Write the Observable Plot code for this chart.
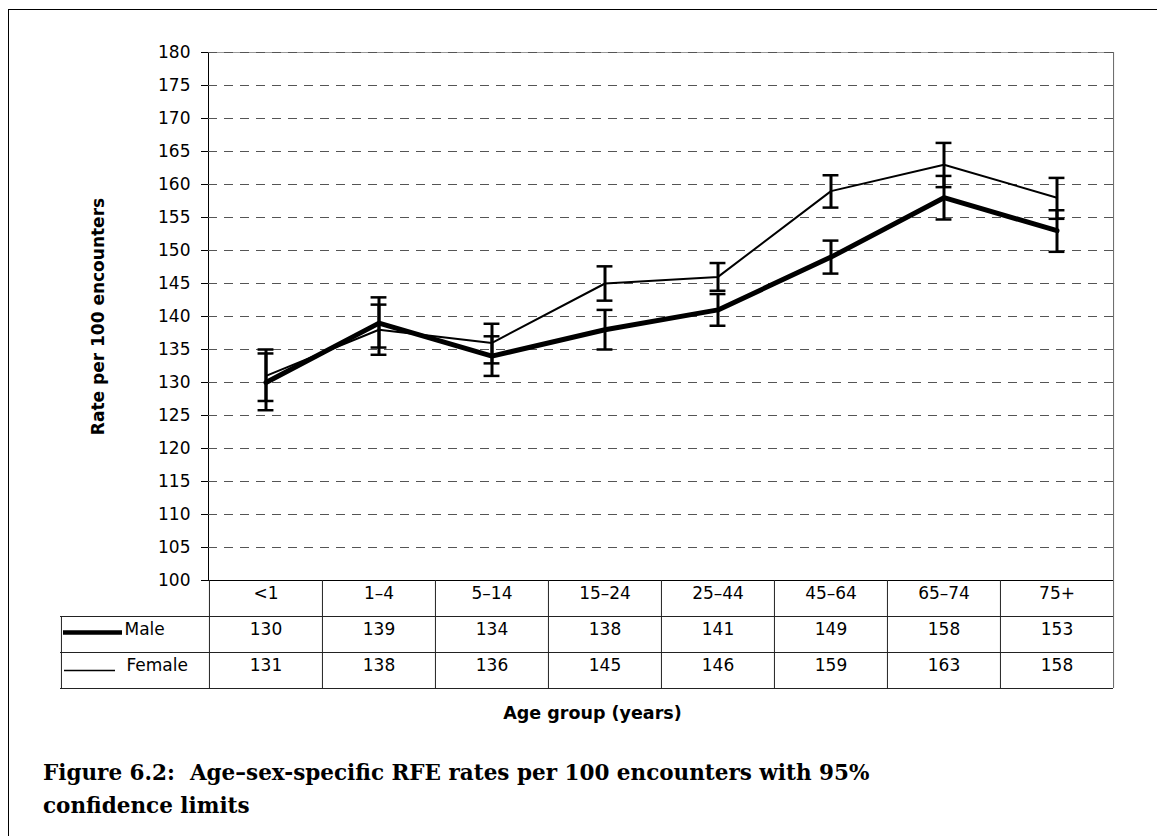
<!DOCTYPE html>
<html>
<head>
<meta charset="utf-8">
<script src="https://cdn.jsdelivr.net/npm/d3@7"></script>
<script src="https://cdn.jsdelivr.net/npm/@observablehq/plot@0.6"></script>
<style>
  html, body { margin: 0; padding: 0; background: #fff; }
  #page { position: relative; width: 1157px; height: 836px; overflow: hidden; background: #fff; }
  #border { position: absolute; left: 8px; top: 9px; width: 1160px; height: 840px; z-index: 2;
            border-left: 1px solid #000; border-top: 1px solid #000; pointer-events: none; }
  #chart { position: absolute; left: 0; top: 0; z-index: 1; }
  #caption { position: absolute; left: 43px; top: 756px; font-family: "DejaVu Serif", serif; z-index: 1;
             font-weight: bold; font-size: 21.5px; line-height: 33px; color: #000; white-space: nowrap; }
</style>
</head>
<body>
<div id="page">
  <div id="border"></div>
  <div id="chart"></div>
  <div id="caption">Figure 6.2:&nbsp; Age–sex-specific RFE rates per 100 encounters with 95%<br>confidence limits</div>
</div>
<script>
// ---- data ----
const ages = ["<1", "1–4", "5–14", "15–24", "25–44", "45–64", "65–74", "75+"];
const male = [130, 139, 134, 138, 141, 149, 158, 153];
const female = [131, 138, 136, 145, 146, 159, 163, 158];
const maleLo = [125.8, 135.3, 131.0, 135.0, 138.6, 146.5, 154.7, 149.8];
const maleHi = [134.4, 142.9, 137.0, 141.0, 143.4, 151.5, 161.3, 156.1];
const femaleLo = [127.2, 134.2, 132.9, 142.4, 143.9, 156.5, 159.6, 154.8];
const femaleHi = [135.0, 141.8, 138.9, 147.6, 148.1, 161.4, 166.3, 161.0];
const yTicks = [100, 105, 110, 115, 120, 125, 130, 135, 140, 145, 150, 155, 160, 165, 170, 175, 180];
const gridTicks = yTicks.slice(1);
const seriesNames = ["Male", "Female"];
const xTitle = "Age group (years)";
const yTitle = "Rate per 100 encounters";

const rows = ages.map((a, i) => ({
  age: a, male: male[i], female: female[i],
  mLo: maleLo[i], mHi: maleHi[i], fLo: femaleLo[i], fHi: femaleHi[i]
}));

// ---- layout ----
const W = 1157, H = 745;
const ml = 208, mr = 44, mt = 52, plotBottom = 580;
const mb = H - plotBottom;
const plotH = plotBottom - mt;
const bw = (W - ml - mr) / ages.length;
const rowH = 36;
const legendW = 148;
const capInset = (bw - 16) / 2;
const lineColor = "#222";

const chart = Plot.plot({
  width: W, height: H,
  marginTop: mt, marginLeft: ml, marginRight: mr, marginBottom: mb,
  style: { fontFamily: "DejaVu Sans, sans-serif", fontSize: "17px", color: "#000", background: "transparent" },
  x: { type: "band", domain: ages, padding: 0, axis: null },
  y: { domain: [100, 180], ticks: yTicks, tickSize: 7, tickPadding: 11, label: null, line: true },
  marks: [
    // gridlines
    Plot.ruleY([180], { stroke: "#9a9a9a" }),
    Plot.ruleY(gridTicks, { stroke: "#555", strokeDasharray: "9,7" }),
    // table & frame lines
    Plot.ruleY([100], { stroke: "#000", strokeWidth: 1.2 }),
    Plot.ruleY([100], { dy: rowH, insetLeft: -legendW, stroke: lineColor }),
    Plot.ruleY([100], { dy: 2 * rowH, insetLeft: -legendW, stroke: lineColor }),
    Plot.ruleY([100], { dy: 3 * rowH, insetLeft: -legendW, stroke: lineColor }),
    Plot.ruleX(ages, { x: d => d, dx: -bw / 2, insetTop: plotH, insetBottom: -3 * rowH, stroke: lineColor }),
    Plot.ruleX([ages[ages.length - 1]], { x: d => d, dx: bw / 2, insetBottom: -3 * rowH, stroke: "#666" }),
    Plot.ruleX([ages[0]], { x: d => d, dx: -bw / 2 - legendW, insetTop: plotH + rowH, insetBottom: -3 * rowH, stroke: lineColor }),
    // series lines
    Plot.line(rows, { x: "age", y: "female", stroke: "#000", strokeWidth: 2 }),
    Plot.line(rows, { x: "age", y: "male", stroke: "#000", strokeWidth: 5 }),
    // error bars
    Plot.ruleX(rows, { x: "age", y1: "fLo", y2: "fHi", stroke: "#000", strokeWidth: 3 }),
    Plot.ruleX(rows, { x: "age", y1: "mLo", y2: "mHi", stroke: "#000", strokeWidth: 3 }),
    Plot.tickY(rows, { x: "age", y: "fLo", insetLeft: capInset, insetRight: capInset, stroke: "#000", strokeWidth: 2.5 }),
    Plot.tickY(rows, { x: "age", y: "fHi", insetLeft: capInset, insetRight: capInset, stroke: "#000", strokeWidth: 2.5 }),
    Plot.tickY(rows, { x: "age", y: "mLo", insetLeft: capInset, insetRight: capInset, stroke: "#000", strokeWidth: 2.5 }),
    Plot.tickY(rows, { x: "age", y: "mHi", insetLeft: capInset, insetRight: capInset, stroke: "#000", strokeWidth: 2.5 }),
    // table text
    Plot.text(ages, { x: d => d, text: d => d, frameAnchor: "bottom", dy: rowH / 2, fontSize: 17 }),
    Plot.text(rows, { x: "age", text: "male", frameAnchor: "bottom", dy: rowH * 1.5, fontSize: 17 }),
    Plot.text(rows, { x: "age", text: "female", frameAnchor: "bottom", dy: rowH * 2.5, fontSize: 17 }),
    // legend cells
    Plot.ruleY([100], { dy: rowH * 1.5 - 2, insetLeft: -145, insetRight: (W - ml - mr) - (122 - ml), stroke: "#000", strokeWidth: 4.5 }),
    Plot.ruleY([100], { dy: rowH * 2.5, insetLeft: -144, insetRight: (W - ml - mr) - (115 - ml), stroke: "#000", strokeWidth: 1.5 }),
    Plot.text([seriesNames[0]], { text: d => d, frameAnchor: "bottom-left", textAnchor: "start", dx: 124 - ml, dy: rowH * 1.5, fontSize: 17 }),
    Plot.text([seriesNames[1]], { text: d => d, frameAnchor: "bottom-left", textAnchor: "start", dx: 126 - ml, dy: rowH * 2.5, fontSize: 17 }),
    // axis titles
    Plot.text([xTitle], { text: d => d, frameAnchor: "bottom", textAnchor: "middle", dx: 592 - (ml + (W - ml - mr) / 2), dy: 138, fontWeight: "bold", fontSize: 17.5 }),
    Plot.text([yTitle], { text: d => d, frameAnchor: "left", textAnchor: "middle", dx: 98 - ml, rotate: -90, fontWeight: "bold", fontSize: 17 })
  ]
});
document.getElementById("chart").appendChild(chart);
</script>
</body>
</html>
